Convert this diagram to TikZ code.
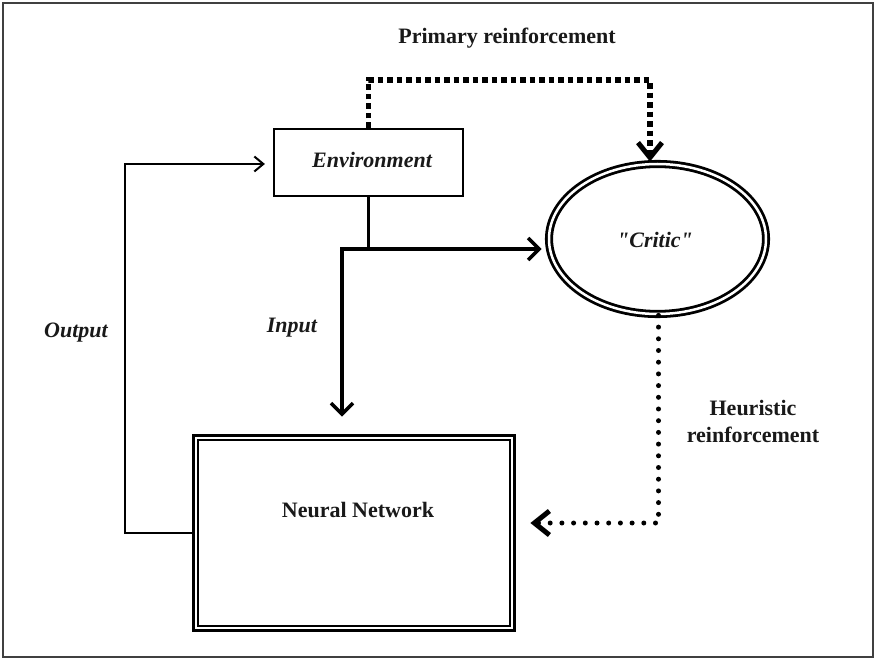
\documentclass[tikz,border=0pt]{standalone}
\usepackage{fontspec}
\setmainfont{Liberation Serif}[Ligatures=TeXOff]
\usetikzlibrary{arrows.meta,shapes.geometric,calc}
\begin{document}
\begin{tikzpicture}[x=1pt,y=-1pt,
  lbl/.style={font=\fontsize{22}{27}\selectfont\bfseries, text=black!90, inner sep=0pt},
  ilbl/.style={font=\fontsize{22}{27}\selectfont\bfseries\itshape, text=black!90, inner sep=0pt},
  thickln/.style={line width=3.5pt, line cap=butt},
  bigbarb/.style={-{Straight Barb[length=11pt,width=22pt,line width=3.5pt]}},
  thinbarb/.style={-{Straight Barb[length=9pt,width=15pt,line width=2pt]}},
  squaredots/.style={line width=5.5pt, dash pattern=on 5.5pt off 4pt},
  rounddots/.style={line width=5pt, line cap=round, dash pattern=on 0pt off 11.7pt}
]
\useasboundingbox (0,0) rectangle (876,660);
\draw[line width=2.5pt, black!75] (3,3) rectangle (873,657);

% nodes
\node[draw, line width=2.2pt, minimum width=189pt, minimum height=67pt, inner sep=0pt] (env) at (368.5,162.5) {};
\node[ilbl] (envtext) at (372,160) {Environment};

\node[draw, ellipse, line width=2.8pt, double, double distance=2.5pt, minimum width=217pt, minimum height=150pt, inner sep=0pt] (critic) at (657.5,239) {};
\node[ilbl] (critictext) at (655,240) {"Critic"};

\node[draw, line width=3.8pt, minimum width=321pt, minimum height=195pt, inner sep=0pt] (nn) at (354,533) {};
\draw[line width=2.2pt] ([xshift=6.5pt,yshift=-6.5pt]nn.north west) rectangle ([xshift=-6.5pt,yshift=6.5pt]nn.south east);
\node[lbl] (nntext) at (358,510) {Neural Network};

\node[lbl] (prim) at (507,38) {Primary reinforcement};
\node[lbl, align=center] (heur) at (753,421) {Heuristic\\reinforcement};
\node[ilbl] (input) at (292,328) {Input};
\node[ilbl] (output) at (76,333) {Output};

% connectors
\coordinate (j) at (342,249);
\draw[thickln] (env.south) -- (env.south |- j);
\draw[thickln, bigbarb] ([xshift=-1.75pt]j) -- ([xshift=-6pt]critic.west |- j);
\draw[thickln, bigbarb] ([yshift=1.75pt]j) -- ([yshift=17pt]nn.north -| j);

\draw[line width=2pt, thinbarb] (nn.west) -- ++(-67,0) |- ([xshift=-8pt,yshift=-1.5pt]env.west);

\coordinate (c1) at (650,80);
\draw[squaredots, -{Straight Barb[length=15pt,width=24pt,line width=5pt]}] (env.north) |- (c1) -- ([yshift=1pt]c1 |- critic.north);

\draw[rounddots, -{Straight Barb[length=15pt,width=24pt,line width=5pt]}] ([xshift=1pt]critic.south) |- ([xshift=14pt,yshift=10pt]nn.east);
\end{tikzpicture}
\end{document}
